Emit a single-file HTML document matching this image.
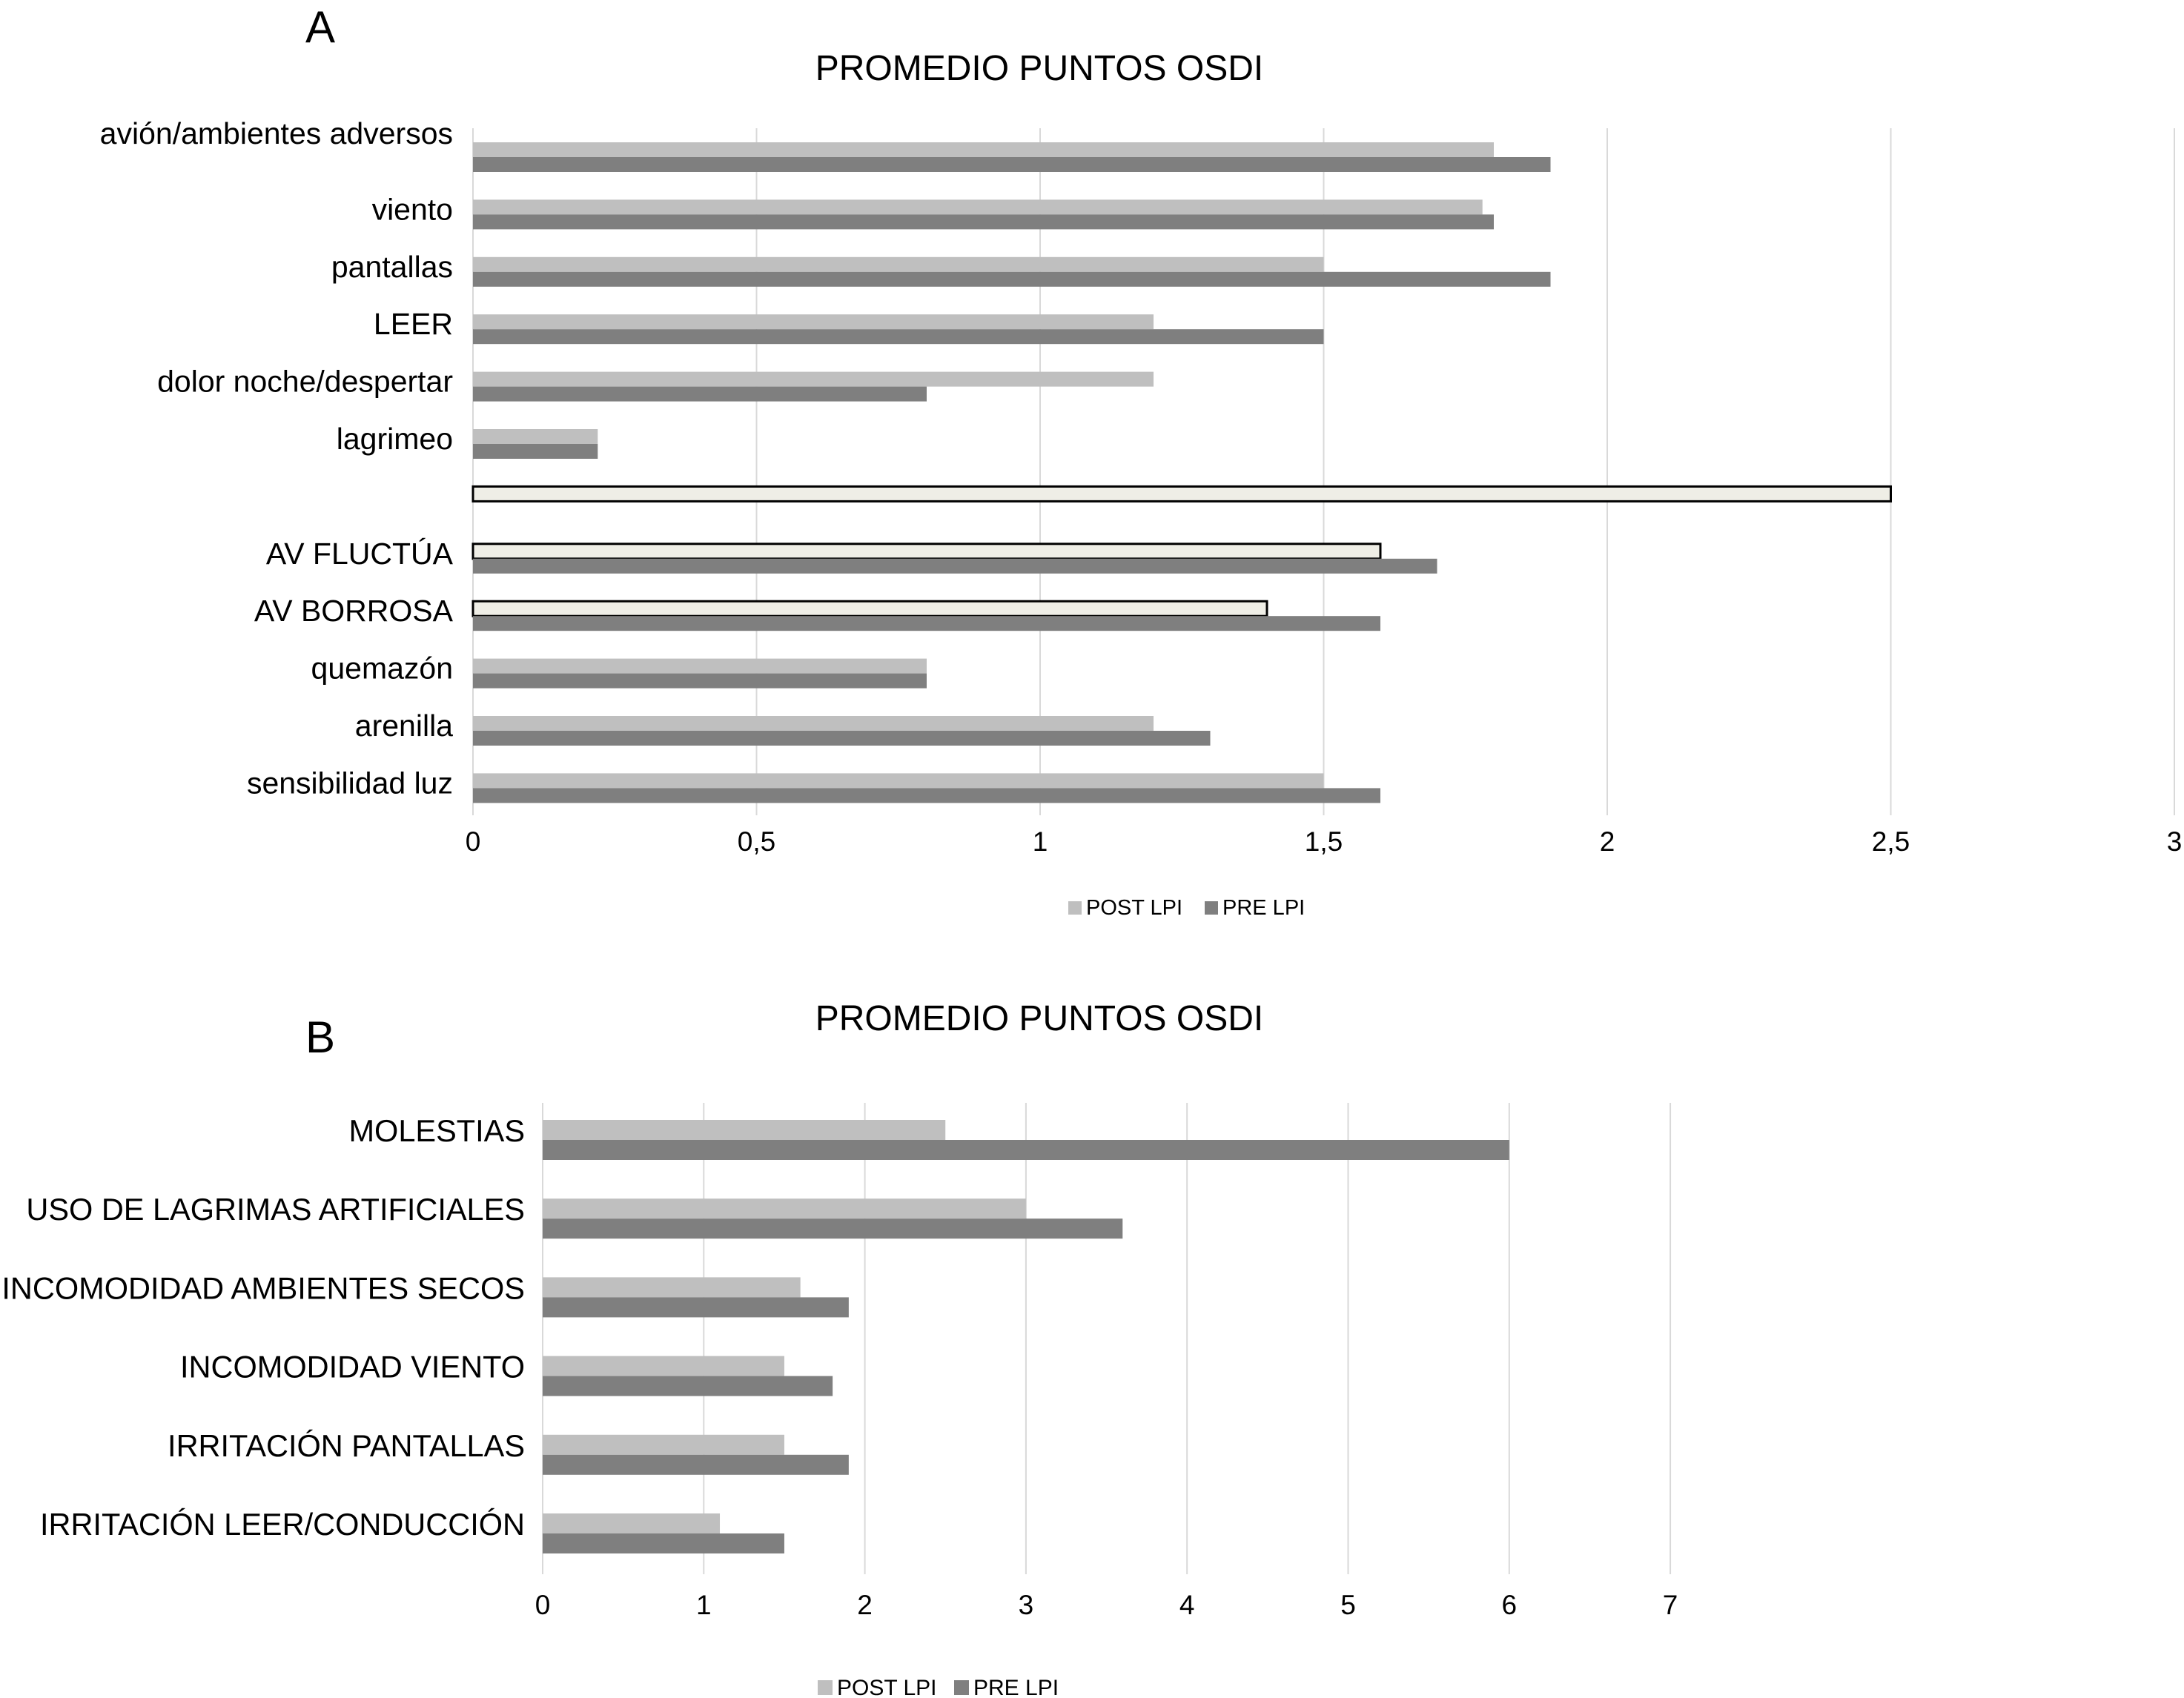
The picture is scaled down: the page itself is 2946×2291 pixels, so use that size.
<!DOCTYPE html>
<html><head><meta charset="utf-8"><style>
html,body{margin:0;padding:0;background:#fff}
svg{display:block;font-family:"Liberation Sans",Arial,sans-serif}
</style></head><body>
<svg id="svg" width="2946" height="2291" viewBox="0 0 2946 2291" xmlns="http://www.w3.org/2000/svg">
<text x="432" y="57" font-size="60" text-anchor="middle">A</text>
<text x="1402" y="108" font-size="48" text-anchor="middle">PROMEDIO PUNTOS OSDI</text>
<text x="432" y="1420" font-size="60" text-anchor="middle">B</text>
<text x="1402" y="1390" font-size="48" text-anchor="middle">PROMEDIO PUNTOS OSDI</text>
<g id="ga"></g>
<g id="gb"></g>
</svg>
<script>
const catsA = ["avión/ambientes adversos","viento","pantallas","LEER","dolor noche/despertar","lagrimeo","","AV FLUCTÚA","AV BORROSA","quemazón","arenilla","sensibilidad luz"];
const postA = [1.8,1.78,1.5,1.2,1.2,0.22,2.5,1.6,1.4,0.8,1.2,1.5];
const preA = [1.9,1.8,1.9,1.5,0.8,0.22,null,1.7,1.6,0.8,1.3,1.6];
const outlinedA = [false,false,false,false,false,false,true,true,true,false,false,false];
const ticksA = ["0","0,5","1","1,5","2","2,5","3"];
const tickValsA = [0,0.5,1,1.5,2,2.5,3];

const catsB = ["MOLESTIAS","USO DE LAGRIMAS ARTIFICIALES","INCOMODIDAD AMBIENTES SECOS","INCOMODIDAD VIENTO","IRRITACIÓN PANTALLAS","IRRITACIÓN LEER/CONDUCCIÓN"];
const postB = [2.5,3,1.6,1.5,1.5,1.1];
const preB = [6,3.6,1.9,1.8,1.9,1.5];
const ticksB = ["0","1","2","3","4","5","6","7"];
const tickValsB = [0,1,2,3,4,5,6,7];

const NS="http://www.w3.org/2000/svg";
function mk(parent,tag,attrs){const e=document.createElementNS(NS,tag);for(const k in attrs)e.setAttribute(k,attrs[k]);parent.appendChild(e);return e;}

function draw(g,cfg){
  const x=v=>cfg.x0+v*cfg.unit;
  cfg.tickVals.forEach((v,i)=>{
    const l=mk(g,'line',{x1:x(v),x2:x(v),y1:cfg.gTop,y2:cfg.gBot,stroke:'#d9d9d9','stroke-width':2});
    
    
    const t=mk(g,'text',{x:x(v),y:cfg.tickY,'font-size':37,'text-anchor':'middle'});
    t.textContent=cfg.ticks[i];
    
    
  });
  cfg.cats.forEach((c,i)=>{
    const top=cfg.firstTop+i*cfg.pitch;
    const pv=cfg.post[i];
    if(pv!=null){
      const out=cfg.outlined&&cfg.outlined[i];
      const r=mk(g,'rect',{x:x(0),y:top,width:x(pv)-x(0),height:cfg.bh,fill:out?'#efeee6':'#bfbfbf',stroke:out?'#000':'none','stroke-width':out?3:0});
      
      
    }
    const qv=cfg.pre[i];
    if(qv!=null){
      const r=mk(g,'rect',{x:x(0),y:top+cfg.bh,width:x(qv)-x(0),height:cfg.bh,fill:'#7f7f7f'});
      
      
    }
    if(c){
      const dy=(i===0&&cfg.firstLabelDy!=null)?cfg.firstLabelDy:cfg.labelDy;
      const t=mk(g,'text',{x:cfg.labelX,y:top+dy,'font-size':cfg.labelFs,'text-anchor':'end'});
      t.textContent=c;
      
      
    }
  });
  const L=cfg.leg;
  const s1=mk(g,'rect',{x:L.x1,y:L.y-L.s+4,width:L.s,height:L.s,fill:'#bfbfbf'});
  
  
  const t1=mk(g,'text',{x:L.x1+L.s+6,y:L.y+4,'font-size':L.fs});t1.textContent='POST LPI';
  
  
  const s2=mk(g,'rect',{x:L.x2,y:L.y-L.s+4,width:L.s,height:L.s,fill:'#7f7f7f'});
  
  
  const t2=mk(g,'text',{x:L.x2+L.s+6,y:L.y+4,'font-size':L.fs});t2.textContent='PRE LPI';
  
  
}

draw(document.getElementById('ga'),{
  cats:catsA,post:postA,pre:preA,outlined:outlinedA,ticks:ticksA,tickVals:tickValsA,
  x0:638,unit:765,gTop:173,gBot:1100,tickY:1148,
  firstTop:192,pitch:77.4,bh:20,labelX:611,labelDy:27,firstLabelDy:2,labelFs:41,
  leg:{x1:1441,x2:1625,y:1230,s:18,fs:29}
});
draw(document.getElementById('gb'),{
  cats:catsB,post:postB,pre:preB,ticks:ticksB,tickVals:tickValsB,
  x0:732,unit:217.3,gTop:1488,gBot:2124,tickY:2178,
  firstTop:1511,pitch:106.2,bh:27,labelX:708,labelDy:29,labelFs:41.5,
  leg:{x1:1103,x2:1287,y:2283,s:20,fs:30}
});
</script>
</body></html>
